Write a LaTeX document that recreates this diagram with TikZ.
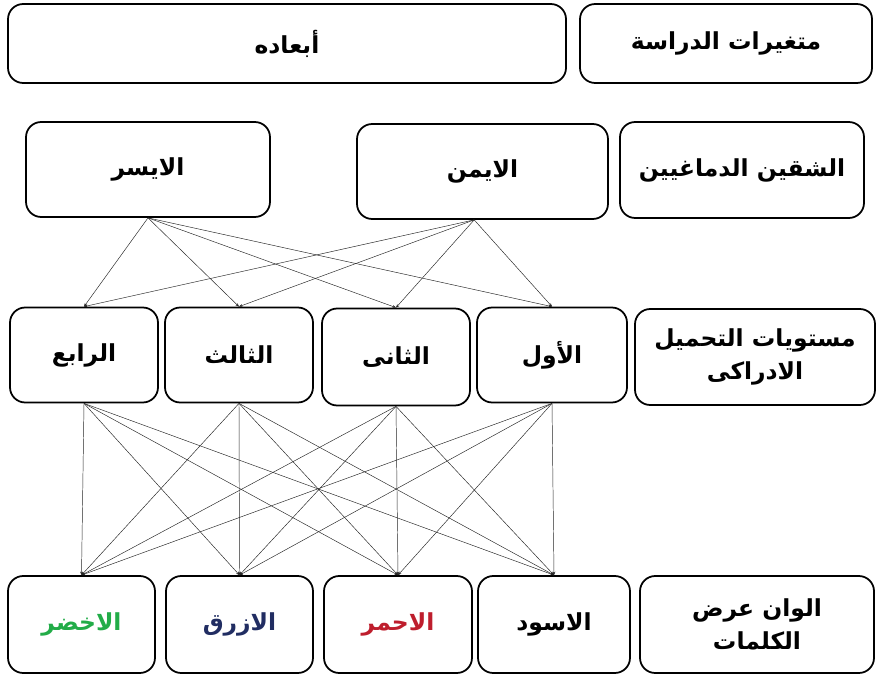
\documentclass[tikz,border=0pt]{standalone}
\usepackage{fontspec}
\usetikzlibrary{arrows.meta}
\TeXXeTstate=1
\newfontfamily\arabicfont[Script=Arabic]{DejaVu Sans}
\newcommand{\artxt}[1]{{\arabicfont\bfseries\beginR #1\endR}}
\definecolor{wgreen}{RGB}{34,172,72}
\definecolor{wblue}{RGB}{33,45,98}
\definecolor{wred}{RGB}{190,30,45}
\tikzset{
  cell/.style={draw, line width=1.5pt, rounded corners=13pt, align=center,
    font=\fontsize{20}{28}\selectfont},
  link/.style={-{Stealth[length=3pt,width=2.4pt]}, line width=0.4pt, black!85}
}
\begin{document}
\begin{tikzpicture}[x=0.03cm, y=-0.03cm]
  \useasboundingbox (0,0) rectangle (878,681);

  % header row
  \node[cell, minimum width=558*0.3mm, minimum height=79*0.3mm] (dims) at (287,43.5) {\artxt{أبعاده}};
  \node[cell, minimum width=292*0.3mm, minimum height=79*0.3mm] (vars) at (726,43.5) {\artxt{متغيرات الدراسة}};

  % hemispheres
  \node[cell, minimum width=244*0.3mm, minimum height=95*0.3mm] (left) at (148,169.5) {\artxt{الايسر}};
  \node[cell, minimum width=251*0.3mm, minimum height=95*0.3mm] (right) at (482.5,171.5) {\artxt{الايمن}};
  \node[cell, minimum width=244*0.3mm, minimum height=96*0.3mm] (hemi) at (742,170) {\artxt{الشقين الدماغيين}};

  % load levels
  \node[cell, minimum width=148*0.3mm, minimum height=95*0.3mm] (l4) at (84,355) {\artxt{الرابع}};
  \node[cell, minimum width=148*0.3mm, minimum height=95*0.3mm] (l3) at (239,355) {\artxt{الثالث}};
  \node[cell, minimum width=148*0.3mm, minimum height=97*0.3mm] (l2) at (396,357) {\artxt{الثانى}};
  \node[cell, minimum width=150*0.3mm, minimum height=95*0.3mm] (l1) at (552,355) {\artxt{الأول}};
  \node[cell, minimum width=240*0.3mm, minimum height=96*0.3mm] (load) at (755,357) {\artxt{مستويات التحميل}\\\artxt{الادراكى}};

  % colours
  \node[cell, minimum width=147*0.3mm, minimum height=97*0.3mm, text=wgreen] (green) at (81.5,624.5) {\artxt{الاخضر}};
  \node[cell, minimum width=147*0.3mm, minimum height=97*0.3mm, text=wblue] (blue) at (239.5,624.5) {\artxt{الازرق}};
  \node[cell, minimum width=148*0.3mm, minimum height=97*0.3mm, text=wred] (red) at (398,624.5) {\artxt{الاحمر}};
  \node[cell, minimum width=152*0.3mm, minimum height=97*0.3mm] (black) at (554,624.5) {\artxt{الاسود}};
  \node[cell, minimum width=234*0.3mm, minimum height=97*0.3mm] (colours) at (757,624.5) {\artxt{الوان عرض}\\\artxt{الكلمات}};

  % links
  \foreach \a/\s in {left/0mm,right/-2.5mm}
    \foreach \b in {l4,l3,l2,l1}
      \draw[link] ([xshift=\s]\a.south) -- (\b.north);
  \foreach \a in {l4,l3,l2,l1}
    \foreach \b in {green,blue,red,black}
      \draw[link] (\a.south) -- (\b.north);

\end{tikzpicture}
\end{document}
